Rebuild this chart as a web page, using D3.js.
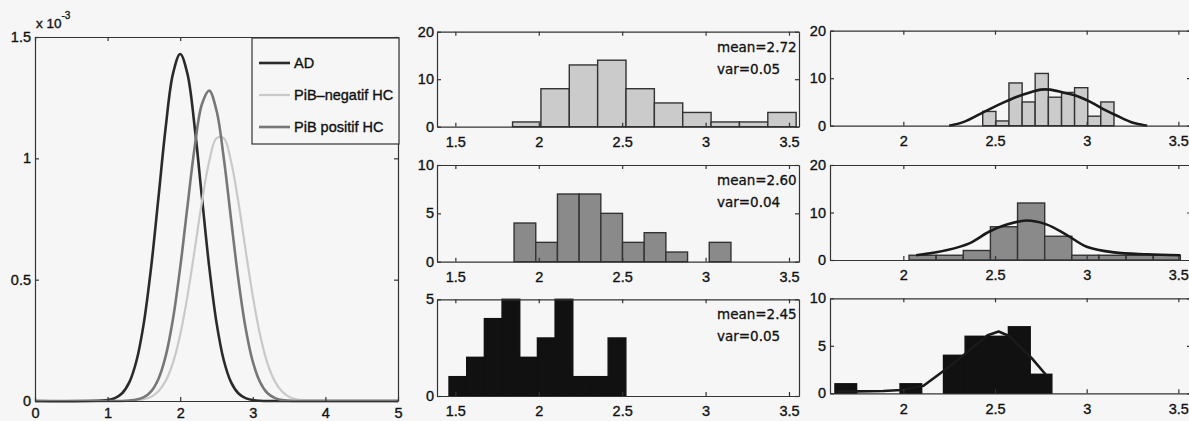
<!DOCTYPE html>
<html>
<head>
<meta charset="utf-8">
<title>AD vs PiB HC distributions</title>
<script src="https://cdn.jsdelivr.net/npm/d3@7"></script>
<style>
  body { margin: 0; background: #f6f6f6; }
  svg { display: block; }
  .tick text { font-family: "Liberation Sans", Arial, sans-serif; font-size: 14.5px; fill: #111; stroke: #111; stroke-width: 0.35; }
  .domain, .tick line { stroke: #333; stroke-width: 1.2; }
  .stat { font-family: "DejaVu Sans", sans-serif; font-size: 13.5px; fill: #111; stroke: #111; stroke-width: 0.3; }
  .leg { font-family: "Liberation Sans", Arial, sans-serif; font-size: 14.5px; fill: #111; stroke: #111; stroke-width: 0.35; }
</style>
</head>
<body>
<svg id="chart" width="1189" height="421"></svg>
<script>
// ---- left panel: densities (x 10^-3)
var densX   = [0, 1.0, 1.1, 1.2, 1.3, 1.4, 1.5, 1.6, 1.7, 1.8, 1.9, 2.0, 2.1, 2.2, 2.3, 2.4, 2.5, 2.6, 2.7, 2.8, 2.9, 3.0, 3.1, 3.2, 3.3, 3.4, 3.5, 3.6, 3.7, 3.8, 3.9, 5];
var densAD  = [0, 0.004, 0.012, 0.032, 0.078, 0.168, 0.323, 0.552, 0.837, 1.127, 1.348, 1.430, 1.348, 1.127, 0.837, 0.552, 0.323, 0.168, 0.078, 0.032, 0.012, 0.004, 0.001, 0, 0, 0, 0, 0, 0, 0, 0, 0];
var densNeg = [0, 0, 0, 0, 0.001, 0.003, 0.007, 0.017, 0.040, 0.083, 0.157, 0.273, 0.432, 0.624, 0.822, 0.988, 1.083, 1.083, 0.988, 0.822, 0.624, 0.432, 0.273, 0.157, 0.083, 0.040, 0.017, 0.007, 0.003, 0.001, 0, 0];
var densPos = [0, 0, 0, 0, 0.002, 0.006, 0.016, 0.040, 0.091, 0.185, 0.337, 0.550, 0.802, 1.047, 1.224, 1.279, 1.197, 1.002, 0.750, 0.503, 0.302, 0.162, 0.078, 0.033, 0.013, 0.004, 0.001, 0, 0, 0, 0, 0];
var seriesNames = ["AD", "PiB\u2013negatif HC", "PiB positif HC"];
var leftXTicks = [0, 1, 2, 3, 4, 5];
var leftYTicks = [0, 0.5, 1, 1.5];

// ---- middle column: histograms
var edgesMidTop = [1.843, 2.013, 2.183, 2.353, 2.523, 2.693, 2.863, 3.033, 3.203, 3.373, 3.543];
var countsMidTop = [1, 8, 13, 14, 8, 5, 3, 1, 1, 3];
var edgesMidMid = [1.852, 1.982, 2.112, 2.242, 2.372, 2.502, 2.632, 2.762, 2.892, 3.022, 3.152];
var countsMidMid = [4, 2, 7, 7, 5, 2, 3, 1, 0, 2];
var edgesMidBot = [1.462, 1.568, 1.674, 1.780, 1.886, 1.992, 2.098, 2.204, 2.310, 2.416, 2.522];
var countsMidBot = [1, 2, 4, 5, 2, 3, 5, 1, 1, 3];
var meanLabels = ["mean=2.72", "mean=2.60", "mean=2.45"];
var varLabels  = ["var=0.05", "var=0.04", "var=0.05"];
var midXTicks = [1.5, 2, 2.5, 3, 3.5];
var midYTicks = [[0, 10, 20], [0, 5, 10], [0, 5]];
var midYMax = [20, 10, 5];

// ---- right column: histograms with fitted curves
var edgesRTop = [2.433, 2.505, 2.576, 2.648, 2.719, 2.791, 2.863, 2.934, 3.006, 3.077, 3.149];
var countsRTop = [3, 1, 9, 5, 11, 6, 7, 8, 2, 5];
var fitRTopX = [2.25, 2.33, 2.44, 2.53, 2.62, 2.69, 2.75, 2.80, 2.87, 2.95, 3.02, 3.09, 3.16, 3.24, 3.29, 3.33];
var fitRTopY = [0, 0.8, 2.9, 4.6, 6.1, 7.0, 7.6, 7.6, 7.0, 6.2, 5.0, 3.5, 2.2, 0.8, 0.3, 0];
var edgesRMid = [2.031, 2.179, 2.327, 2.475, 2.623, 2.771, 2.919, 3.067, 3.215, 3.363, 3.511];
var countsRMid = [1, 1, 2, 7, 12, 5, 1, 1, 1, 1];
var fitRMidX = [2.07, 2.24, 2.36, 2.47, 2.56, 2.67, 2.78, 2.89, 3.00, 3.15, 3.33, 3.51];
var fitRMidY = [1.0, 2.1, 3.5, 6.0, 7.4, 8.3, 7.5, 5.3, 2.8, 1.6, 1.2, 1.0];
var edgesRBot = [1.627, 1.745, 1.864, 1.982, 2.100, 2.219, 2.337, 2.455, 2.573, 2.692, 2.810];
var countsRBot = [1, 0, 0, 1, 0, 4, 6, 6, 7, 2];
var fitRBotX = [1.63, 1.75, 1.89, 1.99, 2.11, 2.23, 2.34, 2.46, 2.52, 2.58, 2.70, 2.78];
var fitRBotY = [0.2, 0.2, 0.25, 0.35, 0.8, 2.5, 4.2, 6.1, 6.5, 6.0, 3.7, 1.9];
var rightXTicks = [2, 2.5, 3, 3.5];
var rightYTicks = [[0, 10, 20], [0, 10, 20], [0, 5, 10]];
var rightYMax = [20, 20, 10];

var fills = ["#cbcbcb", "#8a8a8a", "#111"];
var lineCols = ["#2a2a2a", "#c9c9c9", "#777"];

var svg = d3.select("#chart");

// axes box with inward ticks on all four sides
function frame(x, y, xt, yt, xpad, ypad) {
  var g = svg.append("g");
  var x0 = x.range()[0], x1 = x.range()[1], y0 = y.range()[0], y1 = y.range()[1];
  g.append("g").attr("transform", "translate(0," + y0 + ")")
    .call(d3.axisBottom(x).tickValues(xt).tickSizeInner(-4).tickSizeOuter(0).tickPadding(xpad).tickFormat(d3.format("")));
  g.append("g").attr("transform", "translate(0," + y1 + ")")
    .call(d3.axisTop(x).tickValues(xt).tickSizeInner(-4).tickSizeOuter(0).tickFormat(""));
  g.append("g").attr("transform", "translate(" + x0 + ",0)")
    .call(d3.axisLeft(y).tickValues(yt).tickSizeInner(-4).tickSizeOuter(0).tickPadding(ypad).tickFormat(d3.format("")));
  g.append("g").attr("transform", "translate(" + x1 + ",0)")
    .call(d3.axisRight(y).tickValues(yt).tickSizeInner(-4).tickSizeOuter(0).tickFormat(""));
  return g;
}

function hist(x, y, edges, counts, fill) {
  svg.append("g").selectAll("rect")
    .data(counts)
    .enter().append("rect")
    .attr("x", function(d, i) { return x(edges[i]); })
    .attr("width", function(d, i) { return x(edges[i + 1]) - x(edges[i]); })
    .attr("y", function(d) { return y(d); })
    .attr("height", function(d) { return y(0) - y(d); })
    .attr("fill", fill)
    .attr("stroke", fill == "#111" ? "#111" : "#333")
    .attr("stroke-width", 1.4);
}

function curve(x, y, xs, ys, col, w, kind) {
  var line = d3.line()
    .x(function(d, i) { return x(xs[i]); })
    .y(function(d) { return y(d); })
    .curve(kind);
  svg.append("path")
    .attr("d", line(ys))
    .attr("fill", "none")
    .attr("stroke", col)
    .attr("stroke-width", w)
    .attr("stroke-linejoin", "round");
}

// left panel
var lx = d3.scaleLinear().domain([0, 5]).range([35, 398]);
var ly = d3.scaleLinear().domain([0, 1.5]).range([401, 37]);
curve(lx, ly, densX, densAD, lineCols[0], 2.6, d3.curveCatmullRom);
curve(lx, ly, densX, densNeg, lineCols[1], 2.2, d3.curveCatmullRom);
curve(lx, ly, densX, densPos, lineCols[2], 2.6, d3.curveCatmullRom);
frame(lx, ly, leftXTicks, leftYTicks, 7, 4);

var sc = svg.append("text").attr("class", "leg").attr("x", 36).attr("y", 28).style("font-size", "13.5px");
sc.append("tspan").text("x 10");
sc.append("tspan").attr("dy", -9).style("font-size", "10px").text("-3");

// legend
var leg = svg.append("g");
leg.append("rect").attr("x", 252).attr("y", 38).attr("width", 147).attr("height", 106)
  .attr("fill", "#f6f6f6").attr("stroke", "#333").attr("stroke-width", 1.2);
var legY = d3.scalePoint().domain(seriesNames).range([63, 127]);
seriesNames.forEach(function(n, i) {
  leg.append("line").attr("x1", 259).attr("x2", 290).attr("y1", legY(n)).attr("y2", legY(n))
    .attr("stroke", lineCols[i]).attr("stroke-width", i == 1 ? 2.2 : 2.6);
  leg.append("text").attr("class", "leg").attr("x", 294).attr("y", legY(n) + 5).text(n);
});

// middle column
var mx = d3.scaleLinear().domain([1.39, 3.56]).range([437, 799]);
var midRows = [[126.7, 31.7], [261.7, 165], [396, 299.3]];
var midData = [[edgesMidTop, countsMidTop], [edgesMidMid, countsMidMid], [edgesMidBot, countsMidBot]];
midRows.forEach(function(r, i) {
  var y = d3.scaleLinear().domain([0, midYMax[i]]).range(r);
  hist(mx, y, midData[i][0], midData[i][1], fills[i]);
  frame(mx, y, midXTicks, midYTicks[i], 10, 3);
  svg.append("text").attr("class", "stat").attr("x", 717).attr("y", r[1] + 20).text(meanLabels[i]);
  svg.append("text").attr("class", "stat").attr("x", 717).attr("y", r[1] + 42).text(varLabels[i]);
});

// right column
var rx = d3.scaleLinear().domain([1.6, 3.569]).range([830, 1191]);
var rightRows = [[125.7, 30.7], [260, 165], [393.3, 298.3]];
var rightData = [
  [edgesRTop, countsRTop, fitRTopX, fitRTopY, d3.curveCatmullRom],
  [edgesRMid, countsRMid, fitRMidX, fitRMidY, d3.curveCatmullRom],
  [edgesRBot, countsRBot, fitRBotX, fitRBotY, d3.curveLinear]
];
rightRows.forEach(function(r, i) {
  var y = d3.scaleLinear().domain([0, rightYMax[i]]).range(r);
  var d = rightData[i];
  hist(rx, y, d[0], d[1], fills[i]);
  curve(rx, y, d[2], d[3], "#1a1a1a", 2.6, d[4]);
  frame(rx, y, rightXTicks, rightYTicks[i], 10, 4);
});
</script>
</body>
</html>
